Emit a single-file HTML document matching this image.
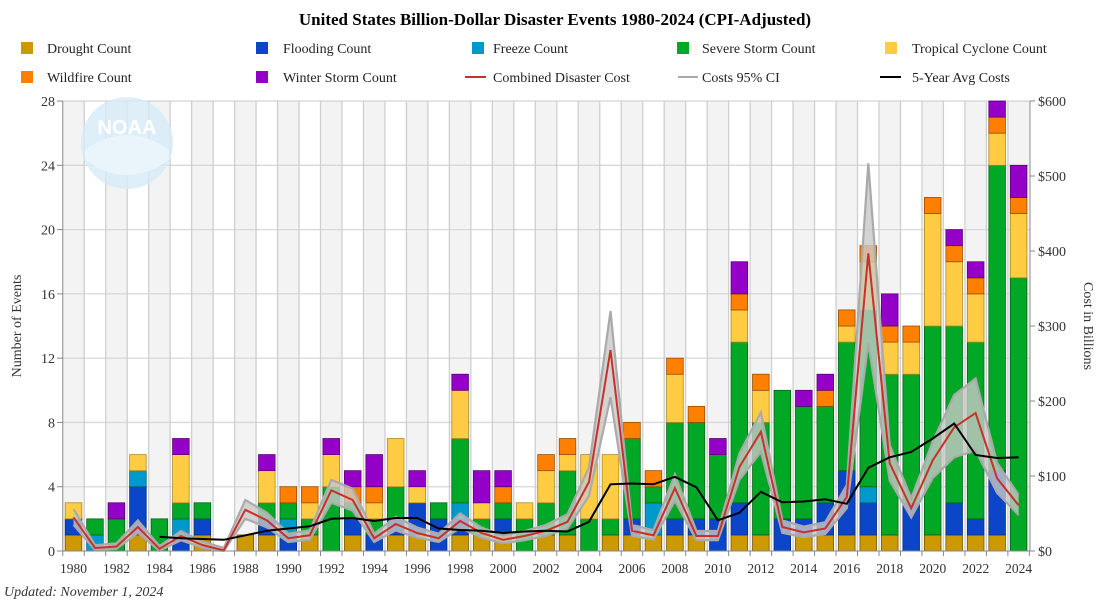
<!DOCTYPE html>
<html><head><meta charset="utf-8"><style>
html,body{margin:0;padding:0;background:#fff;}
svg{display:block;font-family:"Liberation Serif",serif;}
</style></head><body>
<svg id="s" width="1110" height="600" xmlns="http://www.w3.org/2000/svg">
<g id="bg"></g>
<circle cx="127" cy="143" r="46" fill="#d6ebf7" opacity="0.8"/>
<path d="M85,150 Q127,120 169,150 L169,160 Q127,190 85,160 Z" fill="#eaf4fb"/>
<text x="127" y="134" text-anchor="middle" font-family="Liberation Sans,sans-serif" font-weight="bold" font-size="20" fill="#ffffff">NOAA</text>
<g id="bars"></g>
<g id="lines"></g>
<line x1="62.75" y1="101" x2="62.75" y2="551" stroke="#888"/>
<line x1="1030" y1="101" x2="1030" y2="551" stroke="#888"/>
<line x1="62.75" y1="551" x2="1030" y2="551" stroke="#888"/>
<g id="ticks"></g>
<text x="555" y="25" text-anchor="middle" font-weight="bold" font-size="17">United States Billion-Dollar Disaster Events 1980-2024 (CPI-Adjusted)</text>
<g font-size="14" fill="#222">
<rect x="21" y="42" width="12" height="12" fill="#cc9900"/><text x="47" y="53">Drought Count</text>
<rect x="256" y="42" width="12" height="12" fill="#0c46c8"/><text x="283" y="53">Flooding Count</text>
<rect x="472" y="42" width="12" height="12" fill="#0099cc"/><text x="493" y="53">Freeze Count</text>
<rect x="677" y="42" width="12" height="12" fill="#00a826"/><text x="702" y="53">Severe Storm Count</text>
<rect x="885" y="42" width="12" height="12" fill="#ffcc44"/><text x="912" y="53">Tropical Cyclone Count</text>
<rect x="21" y="71" width="12" height="12" fill="#ff8000"/><text x="47" y="82">Wildfire Count</text>
<rect x="256" y="71" width="12" height="12" fill="#9400c8"/><text x="283" y="82">Winter Storm Count</text>
<line x1="465" y1="77" x2="486" y2="77" stroke="#c8302a" stroke-width="2"/><text x="493" y="82">Combined Disaster Cost</text>
<line x1="678" y1="77" x2="698" y2="77" stroke="#aaa" stroke-width="2"/><text x="702" y="82">Costs 95% CI</text>
<line x1="880" y1="77" x2="901" y2="77" stroke="#000" stroke-width="2"/><text x="912" y="82">5-Year Avg Costs</text>
</g>
<g font-size="14" fill="#333" text-anchor="end">
<text x="55" y="556">0</text><text x="55" y="491.7">4</text><text x="55" y="427.4">8</text><text x="55" y="363.2">12</text><text x="55" y="298.9">16</text><text x="55" y="234.6">20</text><text x="55" y="170.4">24</text><text x="55" y="106">28</text>
</g>
<g font-size="14" fill="#333">
<text x="1038" y="556">$0</text><text x="1038" y="481">$100</text><text x="1038" y="406">$200</text><text x="1038" y="331">$300</text><text x="1038" y="256">$400</text><text x="1038" y="181">$500</text><text x="1038" y="106">$600</text>
</g>
<g font-size="13.5" fill="#333" text-anchor="middle">
<text x="73.5" y="573">1980</text><text x="116.5" y="573">1982</text><text x="159.4" y="573">1984</text><text x="202.4" y="573">1986</text><text x="245.3" y="573">1988</text><text x="288.3" y="573">1990</text><text x="331.3" y="573">1992</text><text x="374.2" y="573">1994</text><text x="417.2" y="573">1996</text><text x="460.1" y="573">1998</text><text x="503.1" y="573">2000</text><text x="546.1" y="573">2002</text><text x="589" y="573">2004</text><text x="632" y="573">2006</text><text x="674.9" y="573">2008</text><text x="717.9" y="573">2010</text><text x="760.9" y="573">2012</text><text x="803.8" y="573">2014</text><text x="846.8" y="573">2016</text><text x="889.7" y="573">2018</text><text x="932.7" y="573">2020</text><text x="975.7" y="573">2022</text><text x="1018.6" y="573">2024</text>
</g>
<text transform="translate(21,326) rotate(-90)" text-anchor="middle" font-size="14" fill="#333">Number of Events</text>
<text transform="translate(1084,326) rotate(90)" text-anchor="middle" font-size="14" fill="#333">Cost in Billions</text>
<text x="4" y="596" font-size="14" font-style="italic" fill="#333">Updated: November 1, 2024</text>
</svg>
<script>
var NS="http://www.w3.org/2000/svg";
function el(p,t,a){var e=document.createElementNS(NS,t);for(var k in a)e.setAttribute(k,a[k]);p.appendChild(e);return e;}
var W=21.48,X0=62.75,U=16.07;
function cx(i){return X0+W*(i+0.5);}
var bg=document.getElementById('bg');
for(var i=0;i<45;i++){ if(i%2==0) el(bg,'rect',{x:X0+W*i,y:101,width:W,height:450,fill:'#f3f3f3'}); }
for(var k=4;k<=28;k+=4) el(bg,'line',{x1:X0,x2:1030,y1:551-U*k,y2:551-U*k,stroke:'#d8d8d8','stroke-width':1.3});
for(var i=1;i<45;i++) el(bg,'line',{x1:X0+W*i,x2:X0+W*i,y1:101,y2:551,stroke:'#cfcfcf','stroke-width':1.3});
var d=[[1,1,0,0,1,0,0],[0,0,1,1,0,0,0],[0,0,0,2,0,0,1],[1,3,1,0,1,0,0],[0,0,0,2,0,0,0],[0,1,1,1,3,0,1],[1,1,0,1,0,0,0],[0,0,0,0,0,0,0],[1,0,0,0,0,0,0],[1,1,0,1,2,0,1],
[0,1,1,1,0,1,0],[1,0,0,1,1,1,0],[0,0,0,4,2,0,1],[1,1,0,1,0,1,1],[0,1,0,1,1,1,2],[1,1,0,2,3,0,0],[1,2,0,0,1,0,1],[0,2,0,1,0,0,0],[1,1,1,4,3,0,1],[1,0,0,1,1,0,2],
[1,1,0,1,0,1,1],[0,0,0,2,1,0,0],[1,0,0,2,2,1,0],[1,0,0,4,1,1,0],[0,0,0,2,4,0,0],[1,0,0,1,4,0,0],[1,1,0,5,0,1,0],[1,0,2,1,0,1,0],[1,1,0,6,3,1,0],[1,1,0,6,0,1,0],
[0,2,0,4,0,0,1],[1,2,0,10,2,1,2],[1,0,0,7,2,1,0],[0,2,0,8,0,0,0],[1,1,0,7,0,0,1],[1,2,0,6,0,1,1],[1,4,0,8,1,1,0],[1,2,1,11,3,1,0],[1,0,0,10,2,1,2],[0,3,0,8,2,1,0],
[1,0,0,13,7,1,0],[1,2,0,11,4,1,1],[1,1,0,11,3,1,1],[1,4,0,19,2,1,1],[0,0,0,17,4,1,2]];
var col=['#cc9900','#0c46c8','#0099cc','#00a826','#ffcc44','#ff8000','#9400c8'];
var sk=['#7a5a00','#08307a','#006080','#006616','#b08a20','#994d00','#5a0078'];
var bars=document.getElementById('bars');
d.forEach(function(r,i){var b=0;r.forEach(function(v,j){if(!v)return;el(bars,'rect',{x:cx(i)-8.3,y:551-U*(b+v),width:16.6,height:U*v,fill:col[j],stroke:sk[j],'stroke-width':0.8});b+=v;});});
var c=[45,4,6,32,3,20,8,1,55,41,17,21,81,68,17,36,24,17,40,24,15,20,27,39,92,268,27,21,84,20,20,112,159,32,25,30,72,397,117,57,121,165,184,97,61];
var up=c.map(function(v){return v*1.18+3;}),lo=c.map(function(v){return Math.max(0,v*0.82-2);});
up[25]=320;lo[25]=205;up[37]=517;lo[37]=277;up[41]=208;lo[41]=125;up[42]=230;lo[42]=134;up[32]=185;lo[32]=132;up[8]=68;up[12]=95;up[31]=130;lo[31]=95;
var av={4:19,5:17,6:16,7:15,8:21,9:27,10:30,11:33,12:43,13:44,14:40,15:44,16:44,17:30,18:28,19:27,20:24,21:26,22:27,23:26,24:39,25:89,26:90,27:89,28:99,29:85,30:41,31:51,32:79,33:65,34:66,35:69,36:63,37:111,38:125,39:132,40:150,41:170,42:128,43:124,44:125};
function Y(v){return 551-0.75*v;}
function pts(a){return a.map(function(v,i){return cx(i).toFixed(1)+','+Y(v).toFixed(1);});}
var L=document.getElementById('lines');
var pu=pts(up),pl=pts(lo).reverse();
el(L,'polygon',{points:pu.concat(pl).join(' '),fill:'#c8c8c8','fill-opacity':0.8});
el(L,'polyline',{points:pu.join(' '),fill:'none',stroke:'#aaa','stroke-width':2.2});
el(L,'polyline',{points:pts(lo).join(' '),fill:'none',stroke:'#aaa','stroke-width':2.2});
el(L,'polyline',{points:pts(c).join(' '),fill:'none',stroke:'#c8302a','stroke-width':2});
var ap=[];for(var i=4;i<45;i++)ap.push(cx(i).toFixed(1)+','+Y(av[i]).toFixed(1));
el(L,'polyline',{points:ap.join(' '),fill:'none',stroke:'#000','stroke-width':2});
var T=document.getElementById('ticks');
for(var i=0;i<=45;i++)el(T,'line',{x1:X0+W*i,x2:X0+W*i,y1:551,y2:556,stroke:'#888'});
for(var k=0;k<=28;k+=4)el(T,'line',{x1:57,x2:62.75,y1:551-U*k,y2:551-U*k,stroke:'#888'});
for(var n=0;n<=6;n++)el(T,'line',{x1:1030,x2:1035,y1:551-75*n,y2:551-75*n,stroke:'#888'});
</script>
</body></html>
